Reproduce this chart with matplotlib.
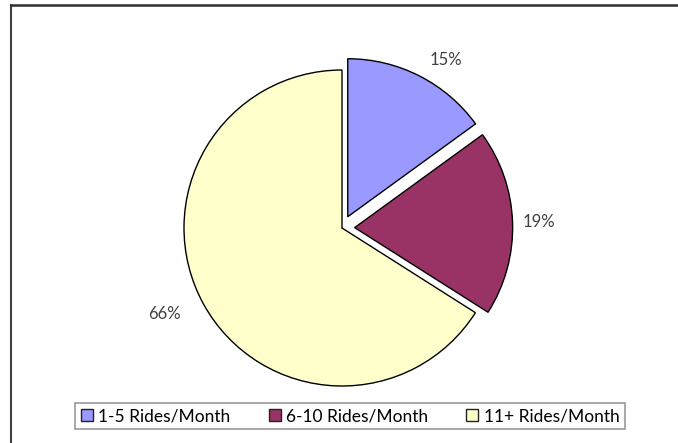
import numpy as np
import matplotlib.pyplot as plt
from matplotlib.lines import Line2D

categories = ["1-5 Rides/Month", "6-10 Rides/Month", "11+ Rides/Month"]
shares = [15, 19, 66]
colors = ["#9999FF", "#993366", "#FFFFCC"]
explode = [0.08, 0.08, 0.0]
label_dist = [1.17, 1.17, 1.25]
label_turn = [-5, 0, -3]  # degrees, nudges labels off the wedge bisector

plt.rcParams['font.family'] = ['Lato', 'DejaVu Sans']

W, H = 678, 443
fig = plt.figure(figsize=(W / 100, H / 100), dpi=100)

# square axes so the pie radius maps to ~158 px
cx, cy, r_px = 342, H - 228, 158
half = r_px * 1.5
ax = fig.add_axes([(cx - half) / W, (cy - half) / H, 2 * half / W, 2 * half / H])
wedges, texts = ax.pie(
    shares, colors=colors, explode=explode, startangle=90, counterclock=False,
    labels=[f"{v}%" for v in shares], labeldistance=1.2,
    wedgeprops=dict(edgecolor="black", linewidth=1.0),
    textprops=dict(fontsize=12, color="#404040"),
)
# put each percent label at its own distance from the wedge centre
for w, t, d, turn in zip(wedges, texts, label_dist, label_turn):
    ang = np.deg2rad((w.theta1 + w.theta2) / 2 + turn)
    x0, y0 = w.center
    t.set_position((x0 + d * np.cos(ang), y0 + d * np.sin(ang)))
    t.set_ha("center")
    t.set_va("center")
ax.set_xlim(-1.5, 1.5)
ax.set_ylim(-1.5, 1.5)
ax.set_aspect("equal")
ax.axis("off")

# outer chart frame (top and left edges)
fig.add_artist(Line2D([10.5 / W, 10.5 / W], [0, 1 - 4.5 / H], transform=fig.transFigure,
                      color="#404040", linewidth=1.5))
fig.add_artist(Line2D([10.5 / W, 1], [1 - 4.5 / H, 1 - 4.5 / H], transform=fig.transFigure,
                      color="#303030", linewidth=1.8))

leg = fig.legend(
    wedges, categories, ncol=3, loc="center", bbox_to_anchor=(350 / W, 1 - 416 / H),
    fancybox=False, frameon=True, edgecolor="#808080", fontsize=12.5,
    handlelength=0.7, handleheight=0.7, handletextpad=0.3, columnspacing=2.2,
    borderpad=0.3, borderaxespad=0,
)
leg.get_frame().set_linewidth(1.2)
for h in leg.legend_handles:
    h.set_edgecolor("#222222")

fig.savefig("out.png", dpi=100)
